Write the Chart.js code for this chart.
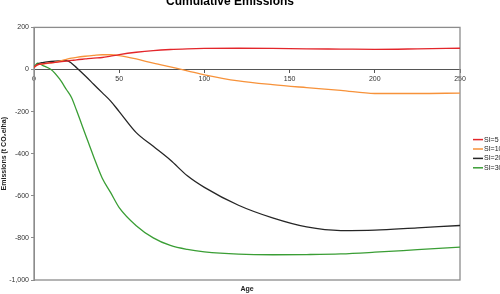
<!DOCTYPE html>
<html>
<head>
<meta charset="utf-8">
<script src="https://cdn.jsdelivr.net/npm/chart.js@4.4.1/dist/chart.umd.min.js"></script>
<style>
  html, body { margin: 0; padding: 0; overflow: hidden; background: #fff; }
  #wrap { position: relative; width: 500px; height: 294px; overflow: hidden; }
  #chart { position: absolute; left: 0; top: -8px; }
</style>
</head>
<body>
<div id="wrap"><canvas id="chart" width="500" height="302"></canvas></div>
<script>
// ages (years)
const ages = [0, 2, 5, 10, 15, 19, 22, 25, 30, 35, 40, 45, 50, 60, 70, 80, 90, 100, 120, 140, 160, 180, 200, 225, 250];

// cumulative emissions (t CO2e/ha) per site index
const si5 = [10, 22, 27, 32, 36, 40, 43, 46, 50, 54, 57, 64, 71, 82, 90, 95, 98, 100, 101, 100, 98, 97, 96, 98, 101];
const si10 = [10, 22, 26, 31, 40, 48, 54, 58, 63, 67, 70, 70, 66, 50, 30, 12, -6, -25, -54, -72, -86, -99, -114, -114, -112];
const si20 = [10, 25, 33, 38, 41, 42, 30, 8, -30, -70, -110, -150, -200, -300, -365, -430, -505, -560, -645, -705, -748, -765, -763, -752, -741];
const si30 = [10, 30, 20, 0, -45, -95, -133, -195, -305, -414, -515, -585, -656, -742, -800, -836, -855, -866, -877, -880, -879, -876, -868, -856, -844];

const seriesNames = ['SI=5', 'SI=10', 'SI=20', 'SI=30'];
const seriesColors = ['#e3262b', '#f7923a', '#262626', '#3a9e35'];

const yTicks = [-1000, -800, -600, -400, -200, 0, 200];
const xTicks = [0, 50, 100, 150, 200, 250];

const fontFamily = '"Liberation Sans", Arial, sans-serif';

const toPoints = (vals) => vals.map((v, i) => ({ x: ages[i], y: v }));

// grey frame round the plot area
const frame = {
  id: 'frame',
  beforeDatasetsDraw(chart) {
    const { ctx, chartArea: a } = chart;
    ctx.save();
    ctx.strokeStyle = '#8c8c8c';
    ctx.lineWidth = 1.3;
    ctx.strokeRect(a.left, a.top, a.right - a.left, a.bottom - a.top);
    ctx.restore();
  },
};

// legend to the right, running off the edge like the original
const sideLegend = {
  id: 'sideLegend',
  afterDraw(chart) {
    const { ctx, chartArea: a } = chart;
    const mid = (a.top + a.bottom) / 2;
    const step = 9.4;
    const x0 = a.right + 13;
    ctx.save();
    ctx.font = '7px ' + fontFamily;
    ctx.textBaseline = 'middle';
    ctx.fillStyle = '#222';
    chart.data.datasets.forEach((ds, i) => {
      const y = mid + (i - 1.5) * step;
      ctx.strokeStyle = ds.borderColor;
      ctx.lineWidth = 1.5;
      ctx.beginPath();
      ctx.moveTo(x0, y);
      ctx.lineTo(x0 + 10, y);
      ctx.stroke();
      ctx.fillText(ds.label, x0 + 11, y);
    });
    ctx.restore();
  },
};

new Chart(document.getElementById('chart'), {
  type: 'line',
  plugins: [frame, sideLegend],
  data: {
    datasets: [si5, si10, si20, si30].map((vals, i) => ({
      label: seriesNames[i],
      data: toPoints(vals),
      borderColor: seriesColors[i],
      backgroundColor: seriesColors[i],
      borderWidth: 1.3,
      pointRadius: 0,
      cubicInterpolationMode: 'monotone',
    })),
  },
  options: {
    responsive: false,
    animation: false,
    layout: { padding: { left: 0, right: 40, top: 0, bottom: 0 } },
    plugins: {
      tooltip: { enabled: false },
      legend: { display: false },
      title: {
        display: true,
        text: 'Cumulative Emissions',
        color: '#000',
        font: { family: fontFamily, size: 12, weight: 'bold' },
        padding: { top: 2, bottom: 19 },
      },
    },
    scales: {
      x: {
        type: 'linear',
        position: { y: 0 },
        min: 0,
        max: 250,
        afterBuildTicks: (s) => { s.ticks = xTicks.map((v) => ({ value: v })); },
        ticks: { color: '#333', font: { family: fontFamily, size: 7 }, padding: 2, maxRotation: 0 },
        grid: { drawOnChartArea: false, tickLength: 3, color: '#555' },
        border: { color: '#555', width: 1 },
      },
      x2: {
        type: 'linear',
        position: 'bottom',
        min: 0,
        max: 250,
        ticks: { display: false },
        grid: { display: false },
        border: { display: false },
        title: {
          display: true,
          text: 'Age',
          color: '#222',
          font: { family: fontFamily, size: 7, weight: 'bold' },
          padding: { top: 4, bottom: 1 },
        },
        afterFit: (s) => { s.height = 14; },
      },
      y: {
        min: -1000,
        max: 200,
        afterBuildTicks: (s) => { s.ticks = yTicks.map((v) => ({ value: v })); },
        ticks: { color: '#333', font: { family: fontFamily, size: 7 }, padding: 2 },
        grid: { drawOnChartArea: false, tickLength: 3, color: '#8c8c8c' },
        border: { color: '#8c8c8c', width: 1 },
        title: {
          display: true,
          text: 'Emissions (t CO\u2082e/ha)',
          color: '#222',
          font: { family: fontFamily, size: 7, weight: 'bold' },
          padding: { top: 0, bottom: 2 },
        },
        afterFit: (s) => { s.width = 34; },
      },
    },
  },
});
</script>
</body>
</html>
